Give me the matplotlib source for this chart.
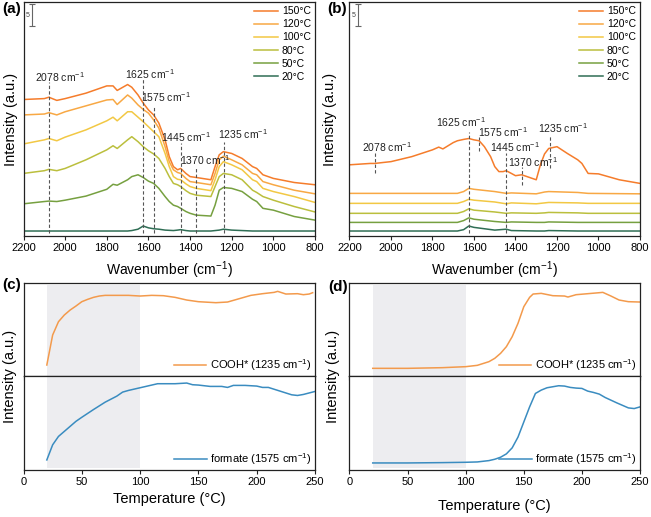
import matplotlib
matplotlib.use("Agg")
import matplotlib.pyplot as plt

plt.rcParams['font.family'] = ['Liberation Sans', 'DejaVu Sans']
plt.rcParams['mathtext.default'] = 'regular'

# ---------------- data ----------------
temps = ['150°C', '120°C', '100°C', '80°C', '50°C', '20°C']
colors = ['#F57C2B', '#F8A844', '#F2C844', '#BBBF3D', '#76A040', '#2F6E55']

wn = [2200, 2100, 2078, 2040, 2000, 1900, 1800, 1770, 1750, 1700, 1680, 1650, 1625, 1600,
      1575, 1550, 1520, 1500, 1480, 1460, 1445, 1420, 1400, 1370, 1300, 1280, 1260, 1240,
      1200, 1150, 1100, 1080, 1050, 1000, 900, 800]

a_150 = [30.1, 30.3, 30.6, 29.9, 30.3, 31.5, 33.1, 33.1, 32.1, 33.4, 32.8, 31.1, 29.3, 27.8,
         26.7, 24.9, 21.2, 17.5, 15.3, 14.6, 14.9, 13.8, 13.1, 12.9, 12.4, 15.3, 17.9, 18.6,
         18.2, 17.1, 15.3, 14.9, 13.5, 12.7, 11.8, 11.3]
a_120 = [26.7, 26.9, 27.2, 26.7, 27.4, 28.7, 30.0, 30.1, 29.0, 31.1, 30.4, 28.9, 27.9, 27.1,
         25.6, 23.8, 19.7, 16.4, 14.6, 14.0, 13.8, 12.7, 12.0, 11.8, 11.3, 13.8, 16.8, 17.6,
         16.8, 15.7, 13.8, 13.5, 12.0, 11.3, 10.1, 9.3]
a_100 = [20.3, 21.2, 21.5, 21.0, 21.8, 23.4, 25.4, 26.2, 25.4, 27.4, 27.4, 26.2, 25.2, 24.1,
         23.0, 21.9, 18.2, 15.3, 13.1, 12.5, 12.4, 11.5, 10.9, 10.5, 10.0, 12.4, 15.3, 16.4,
         15.7, 14.6, 12.4, 12.0, 10.5, 9.8, 8.7, 7.4]
a_80 = [13.8, 14.4, 14.7, 14.4, 14.9, 16.8, 19.0, 19.9, 19.3, 21.2, 21.9, 20.8, 19.7, 18.8,
        18.1, 17.1, 14.9, 13.1, 11.6, 11.3, 10.9, 10.0, 9.4, 9.0, 8.7, 10.9, 13.1, 13.8,
        13.5, 12.4, 10.1, 9.6, 8.7, 7.9, 6.5, 5.3]
a_50 = [7.1, 7.6, 7.7, 7.6, 7.9, 8.8, 10.3, 11.4, 11.2, 12.4, 13.1, 13.5, 12.9, 12.1,
        11.6, 10.5, 8.7, 7.6, 6.8, 6.5, 6.1, 5.4, 5.0, 4.6, 4.4, 6.8, 10.1, 10.7,
        10.5, 9.8, 8.1, 7.6, 6.1, 5.7, 4.3, 3.5]
a_20 = [1.1, 1.1, 1.1, 1.1, 1.1, 1.1, 1.1, 1.1, 1.1, 1.1, 1.2, 1.5, 2.2, 1.8,
        1.6, 1.5, 1.3, 1.25, 1.2, 1.3, 1.4, 1.2, 1.1, 1.1, 1.1, 1.2, 1.3, 1.5,
        1.3, 1.2, 1.1, 1.1, 1.1, 1.1, 1.1, 1.1]

b_150 = [15.7, 16.0, 16.0, 16.2, 16.4, 17.5, 19.0, 19.6, 19.2, 20.6, 21.0, 21.3, 21.5, 21.2,
         21.0, 19.7, 17.5, 15.3, 14.2, 14.2, 14.4, 13.8, 13.3, 13.5, 12.4, 15.7, 18.1, 19.3,
         19.7, 18.2, 16.8, 16.0, 13.8, 13.7, 12.4, 11.6]
wn_b = [2200, 1680, 1650, 1625, 1600, 1500, 1445, 1420, 1300, 1260, 1240, 1100, 1050, 800]
b_120 = [9.4, 9.4, 9.8, 10.5, 10.3, 9.8, 9.4, 9.5, 9.3, 9.7, 9.8, 9.6, 9.4, 9.3]
b_100 = [7.2, 7.2, 7.6, 8.1, 7.9, 7.5, 7.1, 7.3, 7.1, 7.3, 7.4, 7.3, 7.2, 7.2]
b_80 = [5.0, 5.0, 5.4, 6.0, 5.7, 5.3, 5.0, 5.1, 5.0, 5.1, 5.2, 5.1, 5.0, 5.0]
b_50 = [3.0, 3.0, 3.4, 4.0, 3.7, 3.2, 3.0, 3.1, 3.0, 3.0, 3.1, 3.0, 3.0, 3.0]
b_20 = [1.1, 1.1, 1.4, 2.2, 1.9, 1.3, 1.5, 1.2, 1.1, 1.1, 1.2, 1.1, 1.1, 1.1]

peaks = [2078, 1625, 1575, 1445, 1370, 1235]
peak_labels = ['2078 cm$^{-1}$', '1625 cm$^{-1}$', '1575 cm$^{-1}$',
               '1445 cm$^{-1}$', '1370 cm$^{-1}$', '1235 cm$^{-1}$']
# annotation: text x, text y, dashed line top, dashed line bottom
a_text_x = [2026, 1595, 1518, 1418, 1330, 1144]
a_text_y = [35.0, 35.7, 30.7, 21.9, 16.8, 22.5]
a_line_top = [34.0, 34.8, 28.7, 20.4, 14.9, 20.8]
a_line_bot = [0.6, 0.6, 0.6, 0.6, 0.6, 0.6]
b_text_x = [2020, 1665, 1462, 1402, 1314, 1171]
b_text_y = [19.7, 25.1, 23.0, 19.7, 16.2, 23.8]
b_line_top = [18.6, 23.0, 21.8, 18.4, 15.3, 22.3]
b_line_bot = [13.8, 0.6, 18.8, 0.6, 11.3, 14.9]

T_c_cooh = [20, 25, 30, 35, 40, 45, 50, 55, 60, 65, 70, 80, 90, 100, 110, 120, 130, 140, 150,
            165, 175, 185, 195, 205, 215, 218, 225, 235, 240, 245, 248]
c_cooh = [3.3, 12.3, 16.3, 18.3, 19.8, 21.0, 22.3, 23.0, 23.6, 24.0, 24.2, 24.2, 24.2, 24.0,
          24.2, 24.1, 23.6, 22.8, 22.3, 22.0, 22.2, 23.2, 24.2, 24.7, 25.1, 25.4, 24.6, 24.7,
          24.4, 24.6, 25.0]
T_c_form = [20, 25, 30, 35, 40, 45, 50, 60, 70, 80, 85, 90, 100, 110, 115, 120, 130, 140, 145,
            150, 160, 170, 175, 180, 190, 200, 205, 210, 220, 230, 235, 240, 250]
c_form = [3.0, 7.5, 10.0, 11.5, 13.0, 14.5, 15.7, 18.0, 20.2, 22.0, 23.2, 23.7, 24.5, 25.3,
          25.7, 25.7, 25.7, 25.9, 25.4, 25.3, 24.9, 24.9, 24.6, 25.2, 25.2, 25.0, 24.6, 24.6,
          23.5, 22.4, 22.2, 22.5, 23.4]
T_d_cooh = [20, 50, 80, 100, 110, 120, 125, 130, 135, 140, 145, 150, 155, 158, 165, 175, 185,
            188, 195, 205, 215, 218, 225, 232, 240, 250]
d_cooh = [2.3, 2.3, 2.5, 2.8, 3.2, 4.3, 5.3, 6.8, 8.8, 11.8, 15.8, 20.8, 23.6, 24.6, 24.8, 24.1,
          24.0, 23.7, 24.4, 24.7, 25.0, 25.1, 24.0, 22.8, 22.3, 22.2]
T_d_form = [20, 50, 80, 100, 110, 120, 125, 130, 135, 140, 145, 150, 155, 160, 165, 170, 175,
            180, 185, 190, 195, 200, 205, 210, 215, 220, 230, 240, 245, 250]
d_form = [2.1, 2.1, 2.2, 2.3, 2.4, 2.8, 3.2, 3.8, 4.8, 6.6, 9.8, 14.3, 18.8, 22.8, 23.8, 24.5,
          24.8, 25.1, 25.0, 24.6, 24.4, 24.3, 23.5, 23.1, 22.6, 21.6, 20.0, 18.5, 18.3, 18.8]
shade_range = [20, 100]

cooh_color = '#F39A4C'
form_color = '#3A8CC0'
dash_color = '#555555'
spine_col = '#222222'

# ---------------- figure ----------------
W, H = 651, 517
fig = plt.figure(figsize=(W / 100, H / 100), dpi=100)


def fr(x0, y0, x1, y1):
    return [x0 / W, 1 - y1 / H, (x1 - x0) / W, (y1 - y0) / H]


ax_a = fig.add_axes(fr(23.5, 2, 315, 236))
ax_b = fig.add_axes(fr(349.5, 2, 640, 236))
ax_c1 = fig.add_axes(fr(23.5, 282.7, 315, 376))
ax_c2 = fig.add_axes(fr(23.5, 376, 315, 470))
ax_d1 = fig.add_axes(fr(349.5, 282.7, 640, 376))
ax_d2 = fig.add_axes(fr(349.5, 376, 640, 470))

for ax in [ax_a, ax_b, ax_c1, ax_c2, ax_d1, ax_d2]:
    for s in ax.spines.values():
        s.set_linewidth(0.9)
        s.set_color(spine_col)
    ax.set_yticks([])
    ax.tick_params(axis='x', direction='out', length=3, width=0.8, labelsize=8,
                   pad=2, color=spine_col)

# spectra panels
a_series = [a_150, a_120, a_100, a_80, a_50, a_20]
b_x = [wn, wn_b, wn_b, wn_b, wn_b, wn_b]
b_series = [b_150, b_120, b_100, b_80, b_50, b_20]

for ax, xs, ys, tx, ty, lt, lb in [
        (ax_a, [wn] * 6, a_series, a_text_x, a_text_y, a_line_top, a_line_bot),
        (ax_b, b_x, b_series, b_text_x, b_text_y, b_line_top, b_line_bot)]:
    for x, y, c, lab in zip(xs, ys, colors, temps):
        ax.plot(x, y, color=c, lw=1.1, label=lab)
    for p, lab, x, y, t, b in zip(peaks, peak_labels, tx, ty, lt, lb):
        ax.plot([p, p], [b, t], ls=(0, (3, 2)), color=dash_color, lw=0.8)
        ax.text(x, y, lab, ha='center', va='center', fontsize=7.5, color='#222222')
    ax.set_xlim(2200, 800)
    ax.set_ylim(0, 51.6)
    ax.set_xticks([2200, 2000, 1800, 1600, 1400, 1200, 1000, 800])
    ax.set_xlabel('Wavenumber (cm$^{-1}$)', fontsize=10, labelpad=5)
    # scale bar (5 a.u.)
    ax.errorbar([2157], [48.7], yerr=[2.5], color='#666666', lw=0.8, capsize=2.5,
                capthick=0.8)
    ax.text(2178, 48.7, '5', fontsize=5, ha='center', va='center', color='#444444')
    ax.legend(loc='upper right', frameon=False, fontsize=7.5, handlelength=2.3,
              handletextpad=0.35, labelspacing=0.3, borderaxespad=0.1, borderpad=0.3)

ax_a.set_ylabel('Intensity (a.u.)', fontsize=10.5, labelpad=4)
ax_b.set_ylabel('Intensity (a.u.)', fontsize=10.5, labelpad=9)

# temperature panels
for top, bot, Tc, yc, Tf, yf in [(ax_c1, ax_c2, T_c_cooh, c_cooh, T_c_form, c_form),
                                  (ax_d1, ax_d2, T_d_cooh, d_cooh, T_d_form, d_form)]:
    for ax in (top, bot):
        ax.set_xlim(0, 250)
        ax.set_ylim(0, 28)
        ax.set_xticks([0, 50, 100, 150, 200, 250])
    top.axvspan(shade_range[0], shade_range[1], ymin=0, ymax=0.975, color='#EDEDF0', lw=0)
    bot.axvspan(shade_range[0], shade_range[1], ymin=0.018, ymax=1, color='#EDEDF0', lw=0)
    top.tick_params(axis='x', labelbottom=False)
    top.plot(Tc, yc, color=cooh_color, lw=1.1, label='COOH* (1235 cm$^{-1}$)')
    bot.plot(Tf, yf, color=form_color, lw=1.1, label='formate (1575 cm$^{-1}$)')
    for ax in (top, bot):
        ax.legend(loc='lower right', frameon=False, fontsize=8, handlelength=2.9,
                  handletextpad=0.35, borderaxespad=0.1, borderpad=0.2)
    bot.set_xlabel('Temperature (°C)', fontsize=10.5, labelpad=4)

ax_d2.xaxis.labelpad = 9

fig.text(10 / W, 1 - 376 / H, 'Intensity (a.u.)', rotation=90, fontsize=10.5,
         ha='center', va='center')
fig.text(333 / W, 1 - 376 / H, 'Intensity (a.u.)', rotation=90, fontsize=10.5,
         ha='center', va='center')

# panel labels
for x, y, lab in [(2, 9, '(a)'), (327, 9, '(b)'), (2, 285, '(c)'), (328, 287, '(d)')]:
    fig.text(x / W, 1 - y / H, lab, fontsize=11, fontweight='bold', ha='left', va='center')

fig.savefig('out.png', dpi=100)
